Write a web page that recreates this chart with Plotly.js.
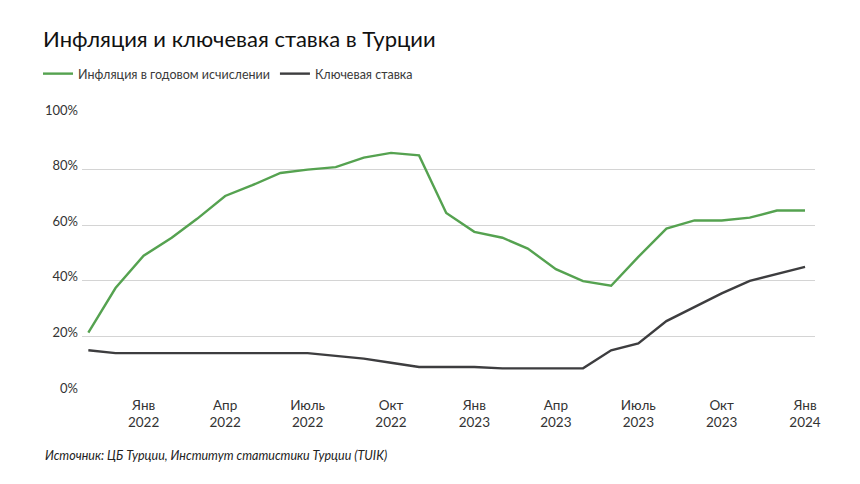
<!DOCTYPE html>
<html>
<head>
<meta charset="utf-8">
<script src="https://cdn.plot.ly/plotly-3.0.1.min.js"></script>
<style>html,body{margin:0;padding:0;background:#fff;}#chart{width:860px;height:484px;}</style>
</head>
<body>
<div id="chart"></div>
<script>
const months = ['2021-11-01','2021-12-01','2022-01-01','2022-02-01','2022-03-01','2022-04-01','2022-05-01','2022-06-01','2022-07-01','2022-08-01','2022-09-01','2022-10-01','2022-11-01','2022-12-01','2023-01-01','2023-02-01','2023-03-01','2023-04-01','2023-05-01','2023-06-01','2023-07-01','2023-08-01','2023-09-01','2023-10-01','2023-11-01','2023-12-01','2024-01-01'];
const inflation = [21.4,37.4,49.0,55.5,62.3,70.5,74.4,78.8,80.0,80.9,84.3,86.0,85.1,64.4,57.6,55.5,51.6,44.2,39.9,38.2,48.6,58.8,61.7,61.7,62.7,65.3,65.3];
const keyRate = [15.0,14.0,14.0,14.0,14.0,14.0,14.0,14.0,14.0,13.0,12.0,10.5,9.0,9.0,9.0,8.5,8.5,8.5,8.5,15.0,17.5,25.5,30.5,35.5,40.0,42.5,45.0];
const tickVals = ['2022-01-01','2022-04-01','2022-07-01','2022-10-01','2023-01-01','2023-04-01','2023-07-01','2023-10-01','2024-01-01'];
const tickText = ['Янв<br>2022','Апр<br>2022','Июль<br>2022','Окт<br>2022','Янв<br>2023','Апр<br>2023','Июль<br>2023','Окт<br>2023','Янв<br>2024'];
const yTicks = [0,20,40,60,80,100];
const yText = ['0%','20%','40%','60%','80%','100%'];
const seriesNames = ['Инфляция в годовом исчислении','Ключевая ставка'];
const titleText = 'Инфляция и ключевая ставка в Турции';
const sourceText = 'Источник: ЦБ Турции, Институт статистики Турции (TUIK)';

const FONT = 'Lato, "DejaVu Sans", sans-serif';
const data = [
  {x: months, y: inflation, name: seriesNames[0], type: 'scatter', mode: 'lines',
   line: {color: '#55a250', width: 2.4}},
  {x: months, y: keyRate, name: seriesNames[1], type: 'scatter', mode: 'lines',
   line: {color: '#3d3d3f', width: 2.4}}
];
const layout = {
  width: 860, height: 484,
  margin: {l: 82, r: 45, t: 114, b: 92},
  paper_bgcolor: '#ffffff', plot_bgcolor: '#ffffff',
  font: {family: FONT, color: '#333333', size: 13},
  title: {text: titleText, xref: 'container', yref: 'container', x: 43/860, xanchor: 'left',
          y: 1 - 39/484, yanchor: 'middle', font: {family: FONT, size: 22, color: '#111111'}},
  showlegend: true,
  legend: {orientation: 'h', x: 38/860, xanchor: 'left', xref: 'container', y: 1 - 74/484, yref: 'container', yanchor: 'middle',
           font: {family: FONT, size: 12.5, color: '#3a3a3a'}, itemwidth: 30, tracegroupgap: 0,
           bgcolor: 'rgba(0,0,0,0)'},
  xaxis: {type: 'date', range: ['2021-10-25','2024-01-12'], tickmode: 'array', tickvals: tickVals, ticktext: tickText,
          showgrid: false, zeroline: false, showline: false, ticks: '', ticklabelstandoff: 3,
          tickfont: {family: FONT, size: 13.5, color: '#333333'}},
  yaxis: {range: [0, 100], tickmode: 'array', tickvals: yTicks, ticktext: yText, showgrid: true, gridcolor: '#d4d4d4', gridwidth: 1,
          zeroline: false, showline: false, ticks: '', ticklabelshift: -4, ticklabelstandoff: 3,
          tickfont: {family: FONT, size: 13, color: '#333333'}},
  annotations: [
    {text: sourceText, xref: 'paper', yref: 'paper', x: -39/733, xanchor: 'left', y: -63/278, yanchor: 'middle',
     showarrow: false, font: {family: FONT, size: 12.5, color: '#222222', style: 'italic'}}
  ]
};
Plotly.newPlot('chart', data, layout, {displayModeBar: false, staticPlot: true});
</script>
</body>
</html>
